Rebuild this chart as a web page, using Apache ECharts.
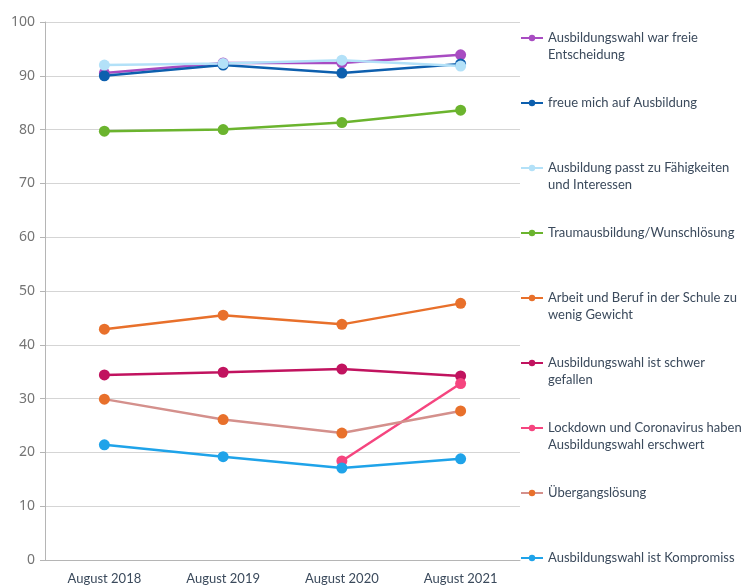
<!DOCTYPE html>
<html lang="de" style="height: 100%">
<head>
  <meta charset="utf-8">
  <script src="https://cdn.jsdelivr.net/npm/echarts@6/dist/echarts.min.js"></script>
  <style>
    body { height: 100%; margin: 0; background: #fff; }
    #chart { width: 744px; height: 586px; }
  </style>
</head>
<body>
  <div id="chart"></div>
  <script>
    var categories = ['August 2018', 'August 2019', 'August 2020', 'August 2021'];

    var freieEntscheidung = [90.5, 92.4, 92.4, 93.9];
    var freueMich = [90.0, 92.0, 90.5, 92.2];
    var passtZuFaehigkeiten = [92.0, 92.3, 92.9, 91.8];
    var traumausbildung = [79.7, 80.0, 81.3, 83.6];
    var arbeitUndBeruf = [42.9, 45.5, 43.8, 47.7];
    var schwerGefallen = [34.4, 34.9, 35.5, 34.2];
    var lockdown = [null, null, 18.4, 32.8];
    var uebergangsloesung = [29.9, 26.1, 23.6, 27.7];
    var kompromiss = [21.4, 19.2, 17.1, 18.8];

    var yTicks = { min: 0, max: 100, interval: 10 };

    var seriesDefs = [
      { name: 'Ausbildungswahl war freie Entscheidung', label: 'Ausbildungswahl war freie\nEntscheidung', data: freieEntscheidung, color: '#a84cc2' },
      { name: 'freue mich auf Ausbildung', label: 'freue mich auf Ausbildung', data: freueMich, color: '#0d5fae' },
      { name: 'Ausbildung passt zu Fähigkeiten und Interessen', label: 'Ausbildung passt zu Fähigkeiten\nund Interessen', data: passtZuFaehigkeiten, color: '#b3e1f8' },
      { name: 'Traumausbildung/Wunschlösung', label: 'Traumausbildung/Wunschlösung', data: traumausbildung, color: '#6bb42e' },
      { name: 'Arbeit und Beruf in der Schule zu wenig Gewicht', label: 'Arbeit und Beruf in der Schule zu\nwenig Gewicht', data: arbeitUndBeruf, color: '#e8702b' },
      { name: 'Ausbildungswahl ist schwer gefallen', label: 'Ausbildungswahl ist schwer\ngefallen', data: schwerGefallen, color: '#c1135f' },
      { name: 'Lockdown und Coronavirus haben Ausbildungswahl erschwert', label: 'Lockdown und Coronavirus haben\nAusbildungswahl erschwert', data: lockdown, color: '#f5457f' },
      { name: 'Übergangslösung', label: 'Übergangslösung', data: uebergangsloesung, color: '#e8702b', lineColor: '#d4908c' },
      { name: 'Ausbildungswahl ist Kompromiss', label: 'Ausbildungswahl ist Kompromiss', data: kompromiss, color: '#1fa3e9' }
    ];

    var legendFont = 'Lato, "Noto Sans", sans-serif';
    var legendLH = 17;

    // one legend per entry so each can sit at its own height;
    // two-line labels get an empty first line so the icon lines up with line one
    var legends = seriesDefs.map(function (s, i) {
      var center = 38 + 65 * i;
      var twoLines = s.label.indexOf('\n') >= 0;
      var text = twoLines ? ' \n' + s.label : s.label;
      var lines = twoLines ? 3 : 1;
      return {
        data: [s.name],
        left: 520,
        top: center - lines * legendLH / 2,
        orient: 'vertical',
        padding: 0,
        itemWidth: 22,
        itemHeight: 8,
        selectedMode: false,
        formatter: function () { return text; },
        textStyle: {
          color: '#3b4a5c',
          fontSize: 13,
          fontFamily: legendFont,
          lineHeight: legendLH
        }
      };
    });

    var series = seriesDefs.map(function (s) {
      return {
        name: s.name,
        type: 'line',
        data: s.data,
        symbol: 'circle',
        symbolSize: 11,
        connectNulls: false,
        itemStyle: { color: s.color },
        lineStyle: { color: s.lineColor || s.color, width: 2.5 },
        emphasis: { disabled: true }
      };
    });

    var myChart = echarts.init(document.getElementById('chart'));
    var option = {
      backgroundColor: '#fff',
      animation: false,
      grid: { left: 45, right: 224, top: 22, bottom: 26, containLabel: false },
      legend: legends,
      xAxis: {
        type: 'category',
        data: categories,
        axisLine: { lineStyle: { color: '#b5b5b5', width: 1 } },
        axisTick: { show: false },
        axisLabel: { color: '#3b4a5c', fontSize: 13, fontFamily: legendFont, margin: 12 }
      },
      yAxis: {
        type: 'value',
        min: yTicks.min,
        max: yTicks.max,
        interval: yTicks.interval,
        axisLine: { show: true, lineStyle: { color: '#b5b5b5', width: 1 } },
        axisTick: { show: true, length: 5, lineStyle: { color: '#b5b5b5' } },
        axisLabel: { color: '#747474', fontSize: 14, fontFamily: '"Noto Sans", sans-serif', margin: 10 },
        splitLine: { lineStyle: { color: '#d5d5d5', width: 1 } }
      },
      series: series
    };
    myChart.setOption(option);
    window.addEventListener('resize', myChart.resize);
  </script>
</body>
</html>
